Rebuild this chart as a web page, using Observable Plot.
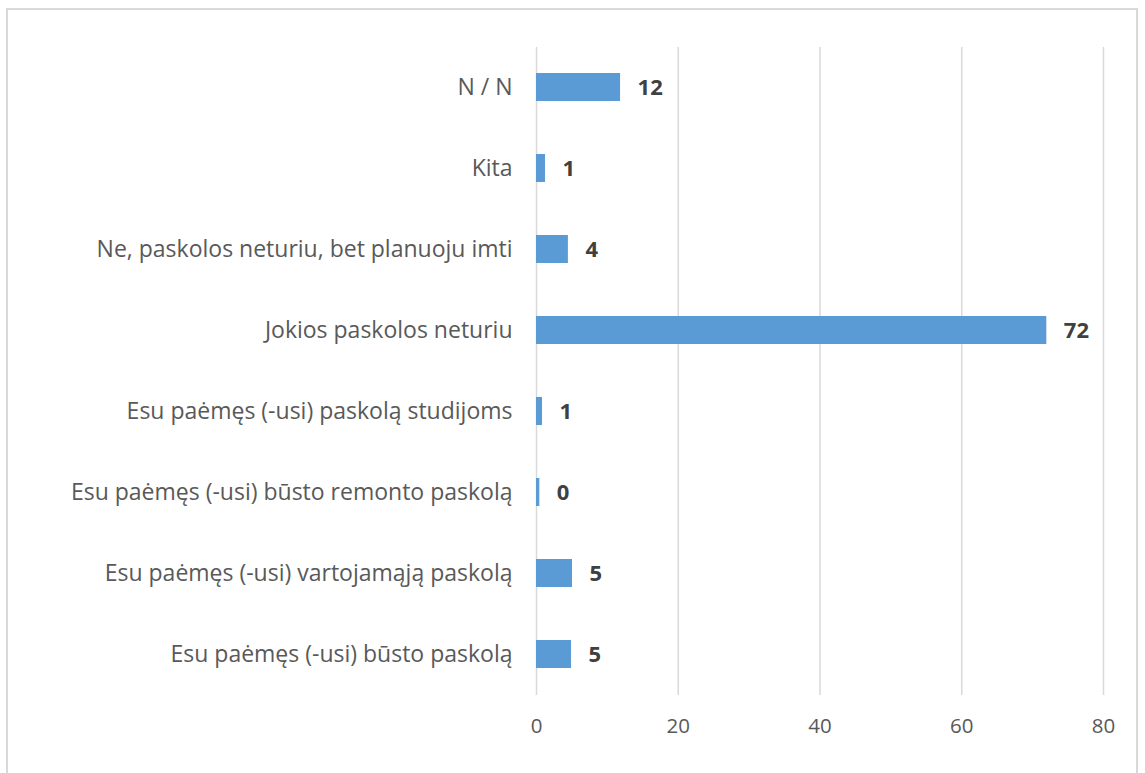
<!DOCTYPE html>
<html>
<head>
<meta charset="utf-8">
<script src="https://cdn.jsdelivr.net/npm/d3@7"></script>
<script src="https://cdn.jsdelivr.net/npm/@observablehq/plot@0.6"></script>
<style>
  html, body { margin: 0; padding: 0; background: #fff; }
  #wrap { position: relative; width: 1145px; height: 773px; overflow: hidden; }
  #frame { position: absolute; left: 6px; top: 8px; width: 1132px; height: 800px; border: 2px solid #d9d9d9; box-sizing: border-box; pointer-events: none; }
</style>
</head>
<body>
<div id="wrap"><div id="frame"></div><div id="chart"></div></div>
<script>
const categories = [
  "N / N",
  "Kita",
  "Ne, paskolos neturiu, bet planuoju imti",
  "Jokios paskolos neturiu",
  "Esu paėmęs (-usi) paskolą studijoms",
  "Esu paėmęs (-usi) būsto remonto paskolą",
  "Esu paėmęs (-usi) vartojamąją paskolą",
  "Esu paėmęs (-usi) būsto paskolą"
];
const values = [11.86, 1.27, 4.5, 72.0, 0.85, 0.47, 5.08, 4.94];
const labels = ["12", "1", "4", "72", "1", "0", "5", "5"];
const xTicks = [0, 20, 40, 60, 80];

const data = categories.map((c, i) => ({cat: c, v: values[i], label: labels[i]}));

const chart = Plot.plot({
  width: 1145,
  height: 773,
  marginLeft: 536,
  marginRight: 42,
  marginTop: 47,
  marginBottom: 78,
  style: {fontFamily: "'Open Sans', sans-serif", background: "transparent"},
  x: {domain: [0, 80], ticks: xTicks, label: null},
  y: {domain: categories, paddingInner: 0.65, paddingOuter: 0.325, label: null},
  marks: [
    Plot.gridX(xTicks, {stroke: "#d9d9d9", strokeOpacity: 1, strokeWidth: 1.5}),
    Plot.barX(data, {x: "v", y: "cat", fill: "#5b9bd5"}),
    Plot.text(data, {x: "v", y: "cat", text: "label", textAnchor: "start", dx: 17, fontSize: 22, fontWeight: "bold", fill: "#404040"}),
    Plot.axisX({ticks: xTicks, tickSize: 0, tickPadding: 23, fontSize: 20.5, color: "#595959", label: null}),
    Plot.axisY({tickSize: 0, tickPadding: 24, fontSize: 23, color: "#595959", label: null})
  ]
});
document.getElementById("chart").appendChild(chart);
</script>
</body>
</html>
